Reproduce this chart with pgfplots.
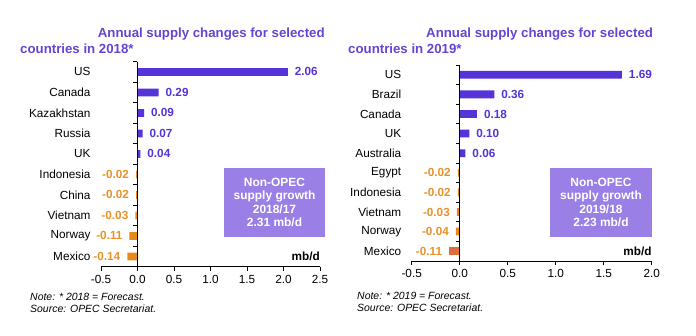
\documentclass[border=0pt]{standalone}
\usepackage{pgfplots}
\pgfplotsset{compat=1.18}
\usepackage{pgfplotstable}
\usepackage{fontspec}
\setmainfont{Liberation Sans}
\definecolor{barpurple}{HTML}{5533D9}
\definecolor{titlepurple}{HTML}{6644D2}
\definecolor{boxpurple}{HTML}{9A80E6}
\definecolor{barorange}{HTML}{E8891E}
\definecolor{laborange}{HTML}{E8922A}
\definecolor{mexred}{HTML}{E06E3A}

% left panel (2018)
\pgfplotstableread{
y v lab
9 2.06 2.06
8 0.29 0.29
7 0.09 0.09
6 0.07 0.07
5 0.04 0.04
}\leftpos
\pgfplotstableread{
y v lab
4 -0.02 -0.02
3 -0.02 -0.02
2 -0.03 -0.03
1 -0.11 -0.11
0 -0.14 -0.14
}\leftneg
% right panel (2019)
\pgfplotstableread{
y v lab
9 1.69 1.69
8 0.36 0.36
7 0.18 0.18
6 0.10 0.10
5 0.06 0.06
}\rightpos
\pgfplotstableread{
y v lab
4 -0.02 -0.02
3 -0.02 -0.02
2 -0.03 -0.03
1 -0.04 -0.04
}\rightneg
\pgfplotstableread{
y v lab
0 -0.11 -0.11
}\rightmex

\pgfplotsset{panel/.style={
  scale only axis, xbar, bar width=7.8bp, bar shift=0pt,
  ymin=-0.5, ymax=9.5, xmin=-0.5,
  axis x line*=bottom, axis y line*=left,
  x axis line style={-, black, line width=0.8bp},
  y axis line style={draw=none},
  ytick={0,...,9}, ytick style={draw=none},
  xtick style={black, line width=0.8bp},
  tick align=outside, major tick length=4bp,
  ticklabel style={font=\fontsize{11.8}{13}\selectfont, text=black},
  yticklabel style={xshift=-3bp},
  xticklabel style={yshift=-1bp},
  clip=false,
  point meta=explicit symbolic,
}}

\begin{document}
\begin{tikzpicture}
\path[use as bounding box] (0bp,0bp) rectangle (696bp,336bp);

% ---------- left panel ----------
\begin{axis}[panel, at={(101bp,69.3bp)}, anchor=south west,
  width=219bp, height=205bp, xmax=2.5,
  xtick={-0.5,0,0.5,1,1.5,2,2.5},
  xticklabels={-0.5,0.0,0.5,1.0,1.5,2.0,2.5},
  yticklabels={Mexico,Norway,Vietnam,China,Indonesia,UK,Russia,Kazakhstan,Canada,US}]
\addplot[fill=barpurple, draw=none, nodes near coords, every node near coord/.append style={anchor=west, xshift=3.5bp, text=barpurple, font=\bfseries\fontsize{11.8}{13}\selectfont}]
  table[x=v, y=y, meta=lab] {\leftpos};
\addplot[fill=barorange, draw=none, nodes near coords, every node near coord/.append style={anchor=east, xshift=-3.5bp, text=laborange, font=\bfseries\fontsize{11.8}{13}\selectfont}]
  table[x=v, y=y, meta=lab] {\leftneg};
\draw[black, line width=0.8bp] (axis cs:0,-0.5) -- (axis cs:0,9.5);
\pgfplotsinvokeforeach{-0.5,0.5,1.5,2.5,3.5,4.5,5.5,6.5,7.5,8.5,9.5}{
  \draw[black, line width=0.8bp] (axis cs:0,#1) -- ([xshift=-4bp]axis cs:0,#1);}
\node[anchor=east, inner sep=0pt, font=\bfseries\fontsize{11.8}{13}\selectfont] at (axis cs:2.5,0) {mb/d};
\end{axis}

% ---------- right panel ----------
\begin{axis}[panel, at={(411.7bp,75bp)}, anchor=south west,
  width=240bp, height=196bp, xmax=2.0,
  xtick={-0.5,0,0.5,1,1.5,2},
  xticklabels={-0.5,0.0,0.5,1.0,1.5,2.0},
  yticklabels={Mexico,Norway,Vietnam,Indonesia,Egypt,Australia,UK,Canada,Brazil,US}]
\addplot[fill=barpurple, draw=none, nodes near coords, every node near coord/.append style={anchor=west, xshift=3.5bp, text=barpurple, font=\bfseries\fontsize{11.8}{13}\selectfont}]
  table[x=v, y=y, meta=lab] {\rightpos};
\addplot[fill=barorange, draw=none, nodes near coords, every node near coord/.append style={anchor=east, xshift=-3.5bp, text=laborange, font=\bfseries\fontsize{11.8}{13}\selectfont}]
  table[x=v, y=y, meta=lab] {\rightneg};
\addplot[fill=mexred, draw=none, nodes near coords, every node near coord/.append style={anchor=east, xshift=-3.5bp, text=laborange, font=\bfseries\fontsize{11.8}{13}\selectfont}]
  table[x=v, y=y, meta=lab] {\rightmex};
\draw[black, line width=0.8bp] (axis cs:0,-0.5) -- (axis cs:0,9.5);
\pgfplotsinvokeforeach{-0.5,0.5,1.5,2.5,3.5,4.5,5.5,6.5,7.5,8.5,9.5}{
  \draw[black, line width=0.8bp] (axis cs:0,#1) -- ([xshift=-4bp]axis cs:0,#1);}
\node[anchor=east, inner sep=0pt, font=\bfseries\fontsize{11.8}{13}\selectfont] at (axis cs:2.0,0) {mb/d};
\end{axis}

% ---------- titles ----------
\begin{scope}[every node/.style={inner sep=0pt, anchor=base west, text=titlepurple, font=\bfseries\fontsize{13.3}{15}\selectfont}]
\node at (97.7bp,298.3bp) {Annual supply changes for selected};
\node at (20bp,282.7bp) {countries in 2018*};
\node at (426bp,298.7bp) {Annual supply changes for selected};
\node at (348bp,282.7bp) {countries in 2019*};
\end{scope}

% ---------- boxes ----------
\fill[boxpurple] (224bp,99bp) rectangle (325bp,168bp);
\node[text=white, align=center, font=\bfseries\fontsize{12}{13.3}\selectfont] at (274.5bp,133.5bp) {Non-OPEC\\supply growth\\2018/17\\2.31 mb/d};
\fill[boxpurple] (550bp,99bp) rectangle (652bp,168bp);
\node[text=white, align=center, font=\bfseries\fontsize{12}{13.3}\selectfont] at (601bp,133.5bp) {Non-OPEC\\supply growth\\2019/18\\2.23 mb/d};

% ---------- notes ----------
\begin{scope}[every node/.style={inner sep=0pt, anchor=base west, font=\itshape\fontsize{10.5}{12}\selectfont}]
\node at (30bp,36bp) {Note: * 2018 = Forecast.};
\node at (30bp,23.5bp) {Source: OPEC Secretariat.};
\node at (357bp,36.5bp) {Note: * 2019 = Forecast.};
\node at (357bp,24.3bp) {Source: OPEC Secretariat.};
\end{scope}
\end{tikzpicture}
\end{document}
